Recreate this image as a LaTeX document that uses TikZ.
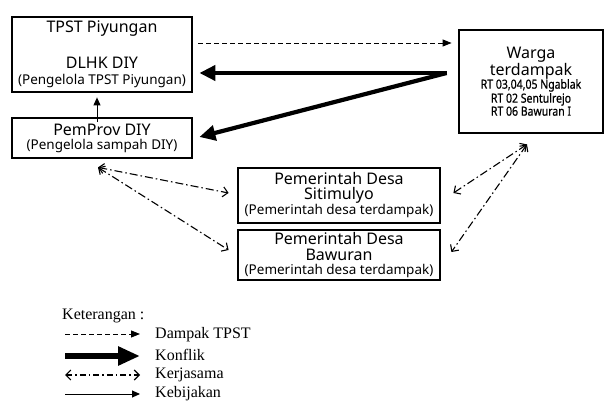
\documentclass[tikz,border=0pt]{standalone}
\usepackage{fontspec}
\setmainfont{Liberation Serif}
\newfontfamily\boxfont{Noto Sans}
\newfontfamily\rtfont[FakeStretch=0.84,FakeBold=0.6]{Noto Sans}
\usetikzlibrary{arrows.meta}
\newcommand{\kecil}{\fontsize{13.5}{14}\selectfont}
\newcommand{\rtsize}{\rtfont\fontsize{12.5}{13}\selectfont}
\tikzset{
    x=1pt, y=-1pt, % one unit is one pixel of the reference
    box/.style={draw, line width=2.8pt, inner sep=0pt, align=center, font=\boxfont\fontsize{16}{16}\selectfont},
    dampak/.style={line width=0.9pt, dash pattern=on 5pt off 3pt, -{Triangle[length=9pt,width=7pt]}},
    konflik/.style={line width=4.2pt, -{Triangle[length=16pt,width=15pt]}},
    kerjasama/.style={line width=1.1pt, dash pattern=on 8pt off 3pt on 1.5pt off 3pt,
        {Straight Barb[length=5pt,width=10pt]}-{Straight Barb[length=5pt,width=10pt]}},
    kebijakan/.style={line width=1pt, -{Triangle[length=8pt,width=7pt]}},
    keterangan/.style={anchor=west, inner sep=0pt, font=\fontsize{16}{16}\selectfont},
}
\begin{document}
\begin{tikzpicture}
\useasboundingbox (0,0) rectangle (611,406);
% boxes
\node[box, minimum width=180pt, minimum height=75pt] (tpst) at (102,54.5)
    {TPST Piyungan\\[20pt]DLHK DIY\\[0pt]{\kecil (Pengelola TPST Piyungan)}};
\node[box, minimum width=180pt, minimum height=40pt] (pemprov) at (102,138)
    {PemProv DIY\\[-2pt]{\kecil (Pengelola sampah DIY)}};
\node[box, minimum width=144pt, minimum height=103pt] (warga) at (531,81.5)
    {Warga\\[1pt]terdampak\\[-3pt]{\rtsize RT 03,04,05 Ngablak}\\[-2pt]{\rtsize RT 02 Sentulrejo}\\[-3pt]{\rtsize RT 06 Bawuran I}};
\node[box, minimum width=202pt, minimum height=55pt] (sitimulyo) at (339,195.5)
    {Pemerintah Desa\\[-1pt]Sitimulyo\\[-1pt]{\kecil (Pemerintah desa terdampak)}};
\node[box, minimum width=202pt, minimum height=50pt] (bawuran) at (339,255)
    {Pemerintah Desa\\[0pt]Bawuran\\[-2pt]{\kecil (Pemerintah desa terdampak)}};
% connectors
\coordinate (konf) at ([xshift=-11pt,yshift=8.5pt]warga.west);
\coordinate (kerjakiri) at ([xshift=-4pt,yshift=-8pt]pemprov.south);
\coordinate (kerjakanan) at ([xshift=-4pt,yshift=-10pt]warga.south);
\draw[dampak] ([xshift=5pt,yshift=11.5pt]tpst.east) -- ([xshift=-6pt,yshift=38.5pt]warga.west);
\draw[konflik] (konf) -- ([xshift=6pt,yshift=-18.5pt]tpst.east);
\draw[konflik] (konf) -- ([xshift=6pt,yshift=1pt]pemprov.east);
\draw[kebijakan] ([xshift=-5pt,yshift=-5pt]pemprov.north) -- ([xshift=-5pt,yshift=-4pt]tpst.south);
\draw[kerjasama] (kerjakiri) -- ([xshift=-8pt,yshift=2.5pt]sitimulyo.west);
\draw[kerjasama] (kerjakiri) -- ([xshift=-8pt,yshift=5pt]bawuran.west);
\draw[kerjasama] (kerjakanan) -- ([xshift=12pt,yshift=2.5pt]sitimulyo.east);
\draw[kerjasama] (kerjakanan) -- ([xshift=10pt,yshift=3pt]bawuran.east);
% legend
\node[keterangan] (ket) at (62,316) {Keterangan :};
\node[keterangan] (ldampak) at (155,335) {Dampak TPST};
\node[keterangan] (lkonflik) at (155,355) {Konflik};
\node[keterangan] (lkerja) at (155,375) {Kerjasama};
\node[keterangan] (lkebijakan) at (155,394) {Kebijakan};
\coordinate (a1) at (65,334);
\coordinate (a2) at (65,356);
\coordinate (a3) at (65,375);
\coordinate (a4) at (65,394);
\draw[dampak] (a1) -- ([xshift=-15pt,yshift=1pt]ldampak.west);
\draw[konflik, line width=5.5pt, -{Triangle[length=22pt,width=18pt]}] (a2) -- ([xshift=-15pt,yshift=-1pt]lkonflik.west);
\draw[kerjasama, dash pattern=on 6pt off 3pt on 1.5pt off 3pt] (a3) -- ([xshift=-15pt]lkerja.west);
\draw[kebijakan] (a4) -- ([xshift=-15pt]lkebijakan.west);
\end{tikzpicture}
\end{document}
